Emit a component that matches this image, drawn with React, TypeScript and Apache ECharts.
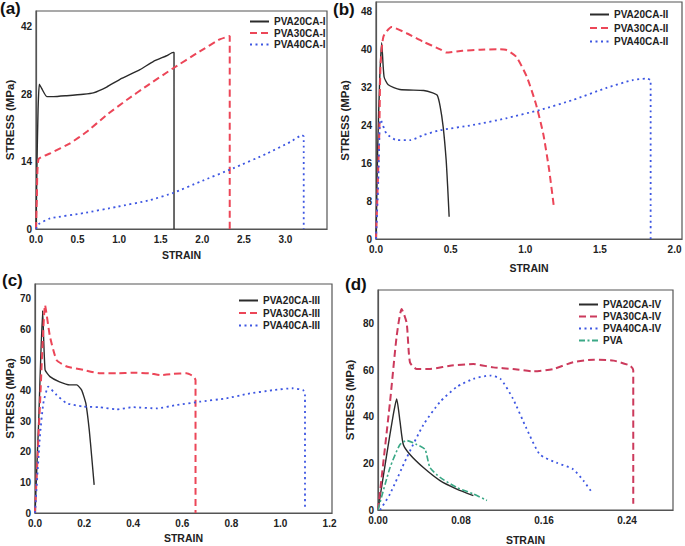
import React, { useEffect, useRef } from "react";
import * as echarts from "echarts";

// ---- Data (strain, stress MPa) ----
const A20: number[][] = [[0,0],[0.01,12],[0.025,25],[0.04,30.1],[0.068,29.2],[0.13,27.5],[0.21,27.5],[0.37,27.7],[0.57,28.0],[0.69,28.3],[0.85,29.5],[1.01,31.1],[1.25,33.1],[1.41,34.8],[1.57,36.0],[1.65,36.7],[1.66,36.7],[1.66,0]];
const A30: number[][] = [[0,0],[0.01,6],[0.03,14.5],[0.17,15.7],[0.41,17.8],[0.61,20.2],[0.85,23.7],[1.09,26.8],[1.33,29.7],[1.65,33.4],[1.97,36.9],[2.21,39.4],[2.33,40.1],[2.33,0]];
const A40: number[][] = [[0,0],[0.03,1.0],[0.17,2.2],[0.57,3.3],[0.97,4.6],[1.37,6.0],[1.65,7.5],[1.97,9.8],[2.37,12.6],[2.78,15.7],[3.06,18.1],[3.2,19.5],[3.22,19.2],[3.22,0]];

const B20: number[][] = [[0,0],[0.011,18.8],[0.025,34],[0.038,41.5],[0.054,34.3],[0.082,32.6],[0.16,31.6],[0.32,31.4],[0.38,30.9],[0.41,30.4],[0.43,28.0],[0.45,23.7],[0.47,16.7],[0.48,11.1],[0.49,4.7]];
const B30: number[][] = [[0,0],[0.022,22.3],[0.03,36.4],[0.05,42.8],[0.105,44.8],[0.205,43.5],[0.316,41.7],[0.43,40.1],[0.47,39.4],[0.58,39.8],[0.70,40.0],[0.81,40.1],[0.87,40.0],[0.94,38.5],[1.01,34.3],[1.07,28.7],[1.12,22.3],[1.16,14.6],[1.19,7.2]];
const B40: number[][] = [[0,0],[0.015,12],[0.027,25.2],[0.035,25.0],[0.07,22.3],[0.14,20.9],[0.23,20.9],[0.32,22.0],[0.43,23.0],[0.65,24.1],[0.87,25.5],[1.10,27.3],[1.32,29.4],[1.54,31.9],[1.72,33.6],[1.81,33.9],[1.84,33.5],[1.84,0]];

const C20: number[][] = [[0,0],[0.015,30],[0.031,66.2],[0.041,46.8],[0.061,44.6],[0.10,42.9],[0.142,41.9],[0.17,41.9],[0.19,40.2],[0.207,35.9],[0.221,27.2],[0.231,18.4],[0.241,9.2]];
const C30: number[][] = [[0,0],[0.02,35],[0.041,68.0],[0.061,57.7],[0.088,50.0],[0.129,47.9],[0.197,46.8],[0.264,45.7],[0.332,45.7],[0.40,45.9],[0.468,45.7],[0.509,45.1],[0.563,45.5],[0.617,45.7],[0.644,44.8],[0.654,43.5],[0.654,0]];
const C40: number[][] = [[0,0],[0.02,25.0],[0.034,35.9],[0.054,41.3],[0.088,38.6],[0.129,35.9],[0.197,34.8],[0.264,34.6],[0.332,33.9],[0.40,34.6],[0.495,34.2],[0.576,35.3],[0.671,36.4],[0.78,37.5],[0.861,38.9],[0.97,40.2],[1.05,40.8],[1.092,40.2],[1.10,39],[1.10,1.5]];

const D20: number[][] = [[0,0],[0.0084,23.8],[0.0147,40.8],[0.018,47.6],[0.0212,38.0],[0.0244,28.1],[0.0308,23.8],[0.0437,18.2],[0.0598,12.6],[0.0759,9.0],[0.0919,6.2]];
const D30: number[][] = [[0,0],[0.0116,46.4],[0.018,74.6],[0.0228,86.2],[0.0276,80.3],[0.0308,63.4],[0.0373,60.5],[0.0501,60.5],[0.0694,61.9],[0.0918,62.6],[0.111,61.2],[0.130,60.5],[0.150,59.5],[0.169,60.5],[0.188,63.4],[0.208,64.5],[0.227,64.1],[0.243,61.9],[0.246,60],[0.246,2.7]];
const D40: number[][] = [[0.002,0],[0.0116,6.9],[0.0276,22.4],[0.0437,36.5],[0.0598,46.4],[0.0759,52.8],[0.0919,56.3],[0.108,57.7],[0.118,56.3],[0.130,47.8],[0.143,35.1],[0.156,23.8],[0.172,20.3],[0.188,17.5],[0.198,12.6],[0.206,7.6]];
const DPVA: number[][] = [[0,0],[0.0116,18.2],[0.0212,28.1],[0.0276,29.8],[0.0373,28.1],[0.0453,26.0],[0.0501,18.2],[0.0598,14.0],[0.0759,9.7],[0.0919,6.9],[0.105,4.1]];

const NAMES_A = ["PVA20CA-I", "PVA30CA-I", "PVA40CA-I"];
const NAMES_B = ["PVA20CA-II", "PVA30CA-II", "PVA40CA-II"];
const NAMES_C = ["PVA20CA-III", "PVA30CA-III", "PVA40CA-III"];
const NAMES_D = ["PVA20CA-IV", "PVA30CA-IV", "PVA40CA-IV", "PVA"];
const PANEL_LABELS = ["(a)", "(b)", "(c)", "(d)"];

// axis settings: [min, max, interval, decimals]
const X_AXES = [
  [0, 3.5, 0.5, 1],
  [0, 2.05, 0.5, 1],
  [0, 1.21, 0.2, 1],
  [0, 0.2843, 0.08, 2],
];
const Y_AXES = [
  [0, 45.3, 14],
  [0, 50.1, 8],
  [0, 74.9, 10],
  [0, 94.4, 20],
];

const FONT = "'Liberation Sans', Arial, sans-serif";
const BLACK = "#2b2b2b";
const RED = "#ec4658";
const RED_D = "#cc3a5c";
const BLUE = "#3d56e2";
const GREEN = "#3aa886";

export default function App() {
  const ref = useRef<HTMLDivElement>(null);
  useEffect(() => {
    if (!ref.current) return;
    const chart = echarts.init(ref.current, undefined, { renderer: "svg" });

    const grids = [
      { left: 36, top: 11, width: 291, height: 218 },
      { left: 376, top: 2, width: 306, height: 237 },
      { left: 35, top: 284, width: 297, height: 229 },
      { left: 378, top: 290, width: 295, height: 223 },
    ];
    const xGaps = [20, 23, 19, 24];
    const yGaps = [20, 25, 19, 22];

    const xAxis = X_AXES.map((a, i) => ({
      type: "value",
      gridIndex: i,
      min: a[0],
      max: a[1],
      interval: a[2],
      name: "STRAIN",
      nameLocation: "middle",
      nameGap: xGaps[i],
      nameTextStyle: { fontFamily: FONT, fontWeight: "bold", fontSize: 10.5, color: "#222" },
      axisLine: { show: true, lineStyle: { color: "#555", width: 1.2 } },
      axisTick: { show: false },
      splitLine: { show: false },
      axisLabel: {
        show: true,
        showMaxLabel: false,
        margin: 5,
        fontFamily: FONT,
        fontWeight: "bold",
        fontSize: 10,
        color: "#222",
        formatter: (v: number) => v.toFixed(a[3]),
      },
    }));
    const yAxis = Y_AXES.map((a, i) => ({
      type: "value",
      gridIndex: i,
      min: a[0],
      max: a[1],
      interval: a[2],
      name: "STRESS (MPa)",
      nameLocation: "middle",
      nameGap: yGaps[i],
      nameTextStyle: { fontFamily: FONT, fontWeight: "bold", fontSize: 11.5, color: "#222" },
      axisLine: { show: true, lineStyle: { color: "#555", width: 1.2 } },
      axisTick: { show: false },
      splitLine: { show: false },
      axisLabel: {
        show: true,
        showMaxLabel: false,
        margin: 4,
        fontFamily: FONT,
        fontWeight: "bold",
        fontSize: 10,
        color: "#222",
        formatter: (v: number) => String(Math.round(v)),
      },
    }));

    const mk = (name: string, data: number[][], idx: number, color: string, type: any, width: number, smooth: number | boolean = false) => ({
      type: "line",
      name,
      data,
      xAxisIndex: idx,
      yAxisIndex: idx,
      symbol: "none",
      showSymbol: false,
      smooth,
      lineStyle: { color, type, width },
      itemStyle: { color },
    });

    const DASH = [7, 4];
    const DOT = [2, 3.5];
    const DASHDOT = [6, 2.5, 2, 2.5];

    const series = [
      mk(NAMES_A[0], A20, 0, BLACK, "solid", 1.4, 0.15),
      mk(NAMES_A[1], A30, 0, RED, DASH, 2, 0.15),
      mk(NAMES_A[2], A40, 0, BLUE, DOT, 1.8, 0.15),
      mk(NAMES_B[0], B20, 1, BLACK, "solid", 1.4, 0.2),
      mk(NAMES_B[1], B30, 1, RED, DASH, 2, 0.2),
      mk(NAMES_B[2], B40, 1, BLUE, DOT, 1.8, 0.2),
      mk(NAMES_C[0], C20, 2, BLACK, "solid", 1.4, 0.15),
      mk(NAMES_C[1], C30, 2, RED, DASH, 2, 0.15),
      mk(NAMES_C[2], C40, 2, BLUE, DOT, 1.8, 0.15),
      mk(NAMES_D[0], D20, 3, BLACK, "solid", 1.4, 0.2),
      mk(NAMES_D[1], D30, 3, RED_D, DASH, 2, 0.2),
      mk(NAMES_D[2], D40, 3, BLUE, DOT, 1.8, 0.2),
      mk(NAMES_D[3], DPVA, 3, GREEN, DASHDOT, 1.6, 0.2),
    ];

    const legendPos = [
      { left: 249, top: 16.5, gap: 1.5 },
      { left: 589, top: 9.5, gap: 3.5 },
      { left: 238, top: 295.5, gap: 2.5 },
      { left: 578, top: 299.5, gap: 2 },
    ];
    const legendNames = [NAMES_A, NAMES_B, NAMES_C, NAMES_D];
    const legend = legendPos.map((p, i) => ({
      data: legendNames[i],
      orient: "vertical",
      left: p.left,
      top: p.top,
      itemGap: p.gap,
      itemWidth: 19,
      itemHeight: 10,
      padding: 0,
      selectedMode: false,
      itemStyle: { opacity: 0, borderWidth: 0 },
      textStyle: { fontFamily: FONT, fontWeight: "bold", fontSize: 10, color: "#222" },
    }));

    const labelPos = [
      { left: 0, top: 0 },
      { left: 333, top: 1 },
      { left: 2, top: 272 },
      { left: 345, top: 276 },
    ];
    const graphic = labelPos.map((p, i) => ({
      type: "text",
      left: p.left,
      top: p.top,
      style: { text: PANEL_LABELS[i], font: `bold 17px ${FONT}`, fill: "#111" },
    }));

    chart.setOption({
      animation: false,
      backgroundColor: "#fff",
      grid: grids.map((g) => ({ ...g, show: true, borderColor: "#555", borderWidth: 1.2, backgroundColor: "transparent" })),
      xAxis,
      yAxis,
      legend,
      series,
      graphic,
    });
    return () => chart.dispose();
  }, []);
  return <div ref={ref} style={{ position: "fixed", left: 0, top: 0, width: 685, height: 546, background: "#fff" }} />;
}
